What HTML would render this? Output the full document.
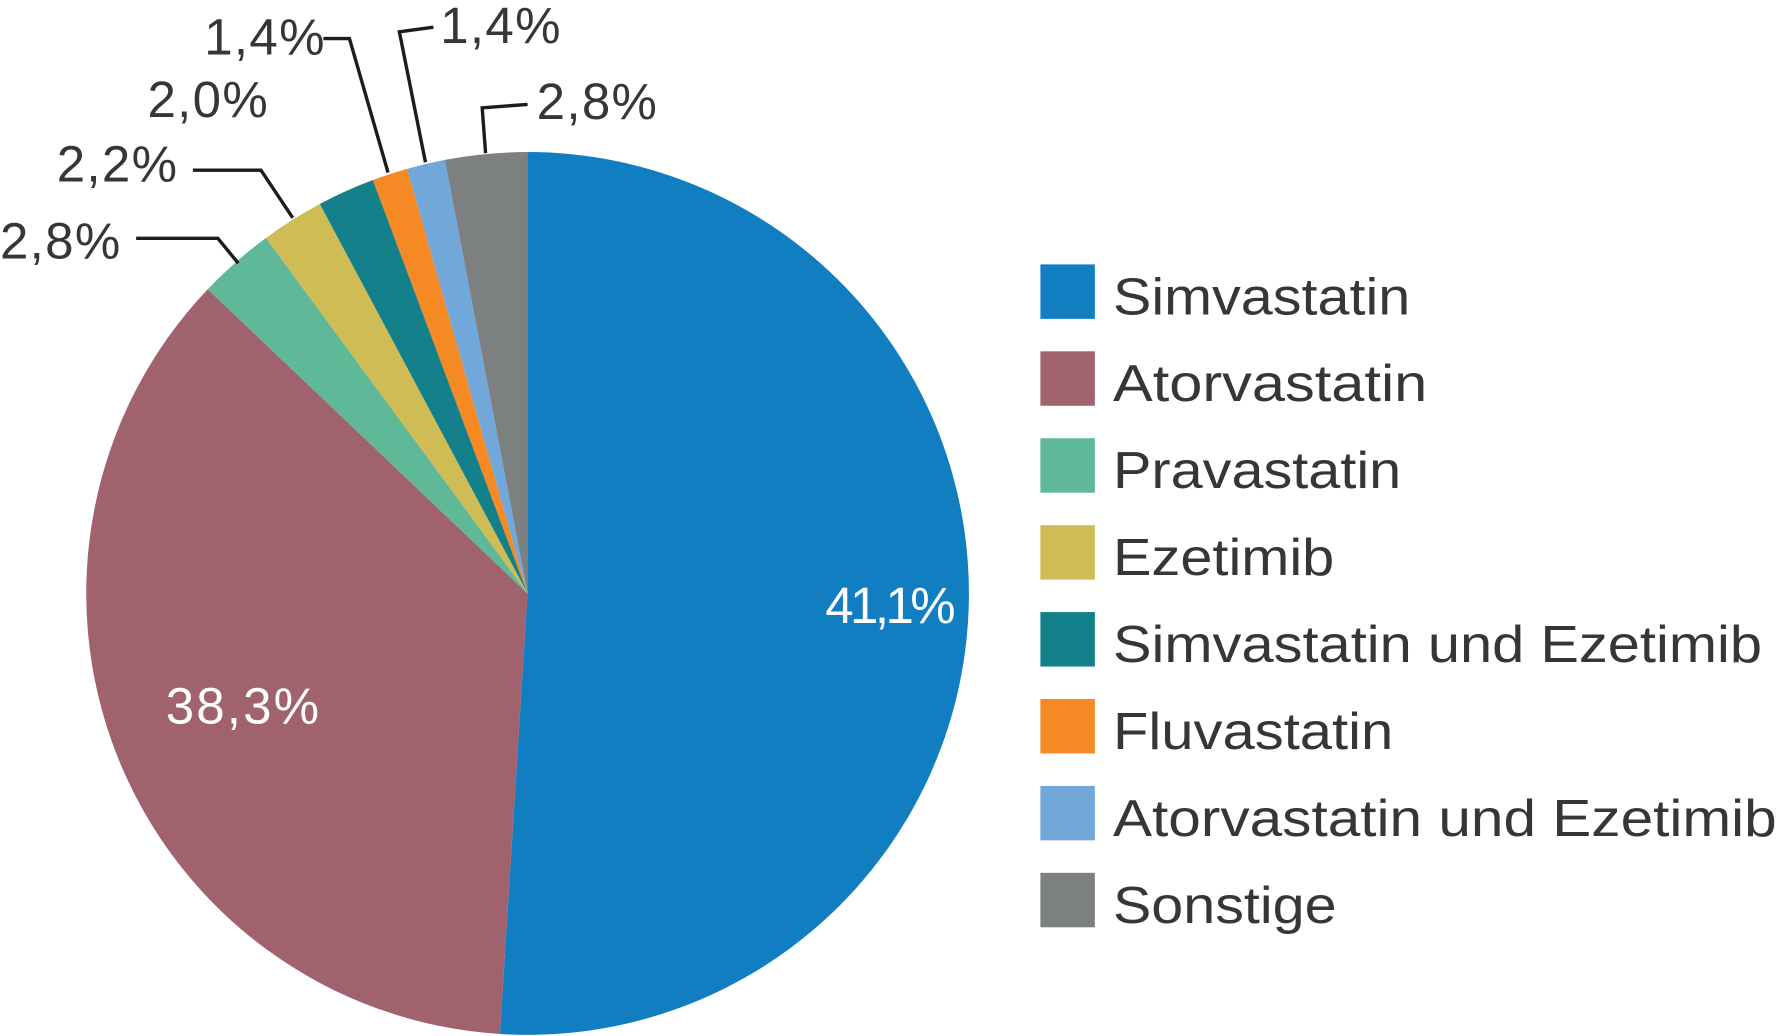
<!DOCTYPE html>
<html><head><meta charset="utf-8"><style>
html,body{margin:0;padding:0;background:#fff;}
svg{display:block;}
text{font-family:"Liberation Sans",sans-serif;}
</style></head><body>
<svg id="chart" width="1779" height="1036" viewBox="0 0 1568 913" preserveAspectRatio="none" xmlns="http://www.w3.org/2000/svg">
<g id="slices"></g>
<g id="callouts" fill="none" stroke="#1c1c1c" stroke-width="3">
<polyline points="120,210 192,210 210,232"/>
<polyline points="170,150 230,150 258,192"/>
<polyline points="285,34 308,34 342,152"/>
<polyline points="382,24 352,28 375,143"/>
<polyline points="465,92 425,95 428,135"/>
</g>
<g id="outlabels" fill="#333739" font-size="45"></g>
<g id="legend"></g>
</svg>
<script>
const categories = ["Simvastatin","Atorvastatin","Pravastatin","Ezetimib","Simvastatin und Ezetimib","Fluvastatin","Atorvastatin und Ezetimib","Sonstige"];
const labels = ["41,1%","38,3%","2,8%","2,2%","2,0%","1,4%","1,4%","2,8%"];
const shares = [51.0,36.1,2.8,2.3,2.1,1.3,1.4,3.0];
const colors = ["#117ec2","#a0636d","#5fb898","#cfbc55","#13808a","#f58a25","#72a7d9","#7d8080"];
const legendWidths = [262,277,254,195,572,247,585,197];

const NS="http://www.w3.org/2000/svg";
const cx=465, cy=523, R=389;
const total=shares.reduce((a,b)=>a+b,0);
function angleOf(v){return v/total*2*Math.PI;}
function pt(a,r){return [cx+r*Math.sin(a), cy-r*Math.cos(a)];}

const sg=document.getElementById('slices');
const og=document.getElementById('outlabels');
// outside label anchors (positions for small slices)
const outPos=[null,null,[0,228],[50,160],[130,103],[180,48],[388,38],[473,105]];
let acc=0;
shares.forEach((v,i)=>{
  const a0=angleOf(acc), a1=angleOf(acc+v); acc+=v;
  const p0=pt(a0,R), p1=pt(a1,R);
  const large=(a1-a0)>Math.PI?1:0;
  const p=document.createElementNS(NS,'path');
  p.setAttribute('d',`M${cx},${cy} L${p0[0]},${p0[1]} A${R},${R} 0 ${large} 1 ${p1[0]},${p1[1]} Z`);
  p.setAttribute('fill',colors[i]);
  
  
  sg.appendChild(p);
  const t=document.createElementNS(NS,'text');
  t.textContent=labels[i];
  if(i<2){
    const mid=(a0+a1)/2;
    const q=pt(mid, i===0?320:270);
    t.setAttribute('x',q[0]); t.setAttribute('y',q[1]+16);
    t.setAttribute('text-anchor','middle');
    t.setAttribute('fill','#fff'); t.setAttribute('font-size','45');
    t.setAttribute('textLength', i===0?115:135);
    sg.appendChild(t);
  } else {
    t.setAttribute('x',outPos[i][0]); t.setAttribute('y',outPos[i][1]);
    t.setAttribute('textLength', 106);
    og.appendChild(t);
  }
  
  
});

const lg=document.getElementById('legend');
categories.forEach((c,i)=>{
  const yc=257+i*76.6;
  const r=document.createElementNS(NS,'rect');
  r.setAttribute('x',917); r.setAttribute('y',yc-24); r.setAttribute('width',48); r.setAttribute('height',48);
  r.setAttribute('fill',colors[i]);
  
  
  lg.appendChild(r);
  const t=document.createElementNS(NS,'text');
  t.textContent=c;
  t.setAttribute('x',981); t.setAttribute('y',yc+20);
  t.setAttribute('font-size','46'); t.setAttribute('fill','#333739');
  t.setAttribute('textLength',legendWidths[i]); t.setAttribute('lengthAdjust','spacingAndGlyphs');
  
  
  lg.appendChild(t);
});
</script>
</body></html>
